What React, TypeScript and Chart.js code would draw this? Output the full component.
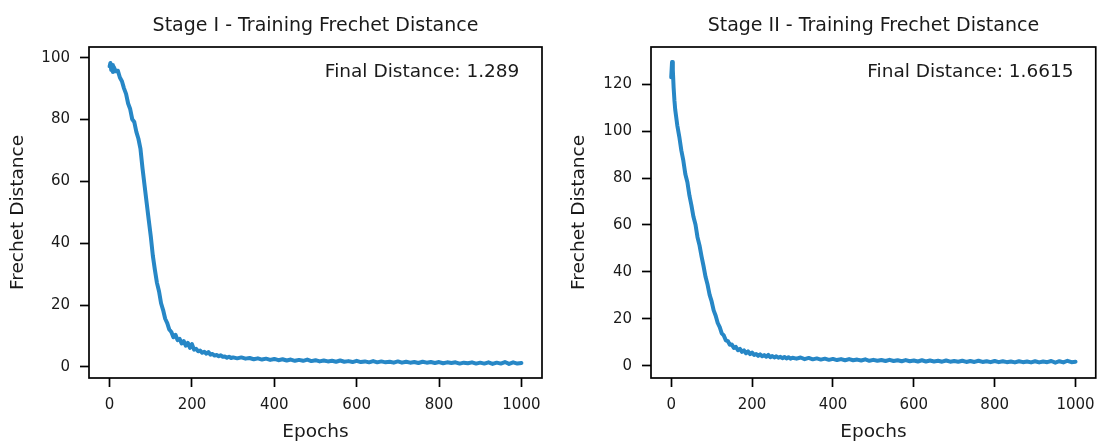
import React, { useEffect, useRef } from 'react';
import { Chart, registerables } from 'chart.js';

Chart.register(...registerables);

const EPOCHS = [
  0, 2, 4, 6, 8, 10,
  15, 20, 25, 30, 35, 40, 45, 50, 55, 60, 65, 70, 75, 80, 85, 90, 95, 100,
  105, 110, 115, 120, 125, 130, 135, 140, 145, 150, 155, 160, 165, 170, 175, 180,
  185, 190, 195, 200, 205, 210, 215, 220, 225, 230, 235, 240, 245, 250, 255, 260,
  265, 270, 275, 280, 285, 290, 295, 300,
  310, 320, 330, 340, 350, 360, 370, 380, 390, 400, 410, 420, 430, 440, 450, 460,
  470, 480, 490, 500, 510, 520, 530, 540, 550, 560, 570, 580, 590, 600, 610, 620,
  630, 640, 650, 660, 670, 680, 690, 700, 710, 720, 730, 740, 750, 760, 770, 780,
  790, 800, 810, 820, 830, 840, 850, 860, 870, 880, 890, 900, 910, 920, 930, 940,
  950, 960, 970, 980, 990, 1000,
];

const STAGE1_DISTANCE = [
  97.2, 98.3, 96.0, 97.6, 95.4, 97.0,
  95.6, 95.8, 93.6, 92.4, 90.1, 88.3, 85.2, 83.4, 80.1, 79.2, 76.0, 73.8, 70.5, 64.2, 58.6, 53.1, 47.6, 42.3,
  36.0, 31.4, 27.2, 24.5, 20.6, 18.4, 15.6, 14.2, 12.1, 11.3, 9.6, 10.4, 8.7, 9.1, 7.6, 8.4,
  6.9, 7.8, 6.2, 7.4, 5.6, 5.9, 5.1, 5.3, 4.6, 4.9, 4.3, 4.8, 4.0, 4.2, 3.7, 3.9,
  3.5, 3.8, 3.3, 3.4, 3.0, 3.3, 2.9, 3.1,
  2.8, 3.1, 2.7, 2.9, 2.5, 2.8, 2.4, 2.7, 2.3, 2.6, 2.2, 2.5, 2.1, 2.4, 2.0, 2.3,
  2.0, 2.4, 1.9, 2.2, 1.8, 2.1, 1.8, 2.0, 1.7, 2.1, 1.7, 1.9, 1.6, 2.0, 1.6, 1.8,
  1.5, 1.9, 1.5, 1.8, 1.5, 1.7, 1.4, 1.8, 1.4, 1.7, 1.4, 1.6, 1.3, 1.7, 1.4, 1.6,
  1.3, 1.6, 1.2, 1.5, 1.3, 1.5, 1.1, 1.4, 1.2, 1.5, 1.1, 1.4, 1.1, 1.5, 1.0, 1.4,
  1.1, 1.6, 1.0, 1.5, 1.1, 1.3,
];

const STAGE2_DISTANCE = [
  123.0, 129.5, 126.0, 118.5, 113.0, 109.0,
  102.5, 97.6, 91.8, 87.4, 81.6, 78.2, 72.6, 68.4, 63.5, 60.2, 54.8, 51.3, 46.6, 42.4, 37.8, 34.5, 30.2, 27.4,
  23.6, 21.3, 18.2, 16.4, 13.8, 12.9, 10.8, 10.5, 8.9, 9.0, 7.6, 8.0, 6.6, 7.2, 5.9, 6.5,
  5.3, 6.1, 4.9, 5.6, 4.6, 5.0, 4.2, 4.8, 4.0, 4.5, 3.8, 4.6, 3.6, 4.1, 3.5, 4.0,
  3.4, 3.8, 3.2, 3.7, 3.1, 3.6, 3.0, 3.4,
  3.0, 3.5, 2.8, 3.3, 2.7, 3.1, 2.6, 3.0, 2.5, 2.9, 2.4, 2.8, 2.3, 2.8, 2.3, 2.6,
  2.2, 2.7, 2.1, 2.5, 2.1, 2.4, 2.0, 2.5, 2.0, 2.3, 1.9, 2.4, 1.9, 2.2, 1.8, 2.3,
  1.8, 2.2, 1.8, 2.1, 1.7, 2.2, 1.7, 2.0, 1.7, 2.1, 1.6, 2.0, 1.6, 2.1, 1.6, 1.9,
  1.5, 2.0, 1.5, 1.9, 1.5, 1.8, 1.4, 1.9, 1.5, 1.8, 1.4, 1.9, 1.4, 1.8, 1.5, 2.0,
  1.3, 1.9, 1.4, 2.1, 1.5, 1.66,
];

const X_TICKS = [0, 200, 400, 600, 800, 1000];
const Y_TICKS_STAGE1 = [0, 20, 40, 60, 80, 100];
const Y_TICKS_STAGE2 = [0, 20, 40, 60, 80, 100, 120];

const TITLES = ['Stage I - Training Frechet Distance', 'Stage II - Training Frechet Distance'];
const FINAL_LABELS = ['Final Distance: 1.289', 'Final Distance: 1.6615'];
const X_LABEL = 'Epochs';
const Y_LABEL = 'Frechet Distance';

const FONT = "'DejaVu Sans', sans-serif";
const TEXT_COLOR = '#1a1a1a';
const LINE_COLOR = '#2787c6';

type PanelProps = {
  values: number[];
  yTicks: number[];
  yMin: number;
  yMax: number;
  title: string;
  finalLabel: string;
  yAxisWidth: number;
  yTitlePad: number;
  rightPad: number;
  left: number;
};

function Panel(props: PanelProps) {
  const ref = useRef<HTMLCanvasElement | null>(null);

  useEffect(() => {
    if (!ref.current) return;
    const frameAndLabel = {
      id: 'frameAndLabel',
      afterDraw(chart: any) {
        const { ctx, chartArea } = chart;
        const w = chartArea.right - chartArea.left;
        const h = chartArea.bottom - chartArea.top;
        ctx.save();
        ctx.strokeStyle = '#000';
        ctx.lineWidth = 1.7;
        ctx.strokeRect(chartArea.left, chartArea.top, w, h);
        ctx.fillStyle = TEXT_COLOR;
        ctx.font = `18.5px ${FONT}`;
        ctx.textAlign = 'right';
        ctx.textBaseline = 'alphabetic';
        ctx.fillText(props.finalLabel, chartArea.right - 0.05 * w, chartArea.top + 0.05 * h + 13.5);
        ctx.restore();
      },
    };

    const chart = new Chart(ref.current, {
      type: 'line',
      data: {
        datasets: [
          {
            data: EPOCHS.map((e, i) => ({ x: e, y: props.values[i] })),
            borderColor: LINE_COLOR,
            borderWidth: 4,
            pointRadius: 0,
            tension: 0,
            borderJoinStyle: 'round',
            borderCapStyle: 'round',
            fill: false,
          },
        ],
      },
      options: {
        animation: false,
        responsive: false,
        devicePixelRatio: 1,
        layout: { padding: { left: 0, right: props.rightPad, top: 0, bottom: 0 } },
        plugins: {
          legend: { display: false },
          tooltip: { enabled: false },
          title: {
            display: true,
            text: props.title,
            fullSize: false,
            color: TEXT_COLOR,
            font: { family: FONT, size: 19, weight: 'normal', lineHeight: 1 },
            padding: { top: 17, bottom: 11 },
          },
        },
        scales: {
          x: {
            type: 'linear',
            min: -50,
            max: 1050,
            afterBuildTicks: (s: any) => {
              s.ticks = X_TICKS.map((v) => ({ value: v }));
            },
            afterFit: (s: any) => {
              s.height = 63;
            },
            grid: {
              display: true,
              drawOnChartArea: false,
              drawTicks: true,
              tickLength: 9,
              tickWidth: 1.7,
              tickColor: '#000',
            },
            border: { display: false },
            ticks: {
              autoSkip: false,
              maxRotation: 0,
              padding: 9,
              color: TEXT_COLOR,
              font: { family: FONT, size: 15 },
              callback: (v: any) => String(v),
            },
            title: {
              display: true,
              text: X_LABEL,
              color: TEXT_COLOR,
              font: { family: FONT, size: 18.5, lineHeight: 1 },
              padding: { top: 0, bottom: 0 },
            },
          },
          y: {
            type: 'linear',
            min: props.yMin,
            max: props.yMax,
            afterBuildTicks: (s: any) => {
              s.ticks = props.yTicks.map((v) => ({ value: v }));
            },
            afterFit: (s: any) => {
              s.width = props.yAxisWidth;
            },
            grid: {
              display: true,
              drawOnChartArea: false,
              drawTicks: true,
              tickLength: 9,
              tickWidth: 1.7,
              tickColor: '#000',
            },
            border: { display: false },
            ticks: {
              autoSkip: false,
              padding: 10,
              color: TEXT_COLOR,
              font: { family: FONT, size: 15 },
              callback: (v: any) => String(v),
            },
            title: {
              display: true,
              text: Y_LABEL,
              color: TEXT_COLOR,
              font: { family: FONT, size: 18.5, lineHeight: 1 },
              padding: { top: props.yTitlePad, bottom: 0 },
            },
          },
        },
      } as any,
      plugins: [frameAndLabel],
    });
    return () => chart.destroy();
  }, []);

  return (
    <div style={{ position: 'absolute', top: 0, left: props.left, width: 552, height: 441 }}>
      <canvas ref={ref} width={552} height={441} style={{ display: 'block', width: 552, height: 441 }} />
    </div>
  );
}

export default function App() {
  return (
    <div style={{ position: 'absolute', top: 0, left: 0, width: 1104, height: 441, background: '#fff' }}>
      <Panel
        values={STAGE1_DISTANCE}
        yTicks={Y_TICKS_STAGE1}
        yMin={-3.56}
        yMax={103.46}
        title={TITLES[0]}
        finalLabel={FINAL_LABELS[0]}
        yAxisWidth={89}
        yTitlePad={9}
        rightPad={10}
        left={0}
      />
      <Panel
        values={STAGE2_DISTANCE}
        yTicks={Y_TICKS_STAGE2}
        yMin={-5.25}
        yMax={135.9}
        title={TITLES[1]}
        finalLabel={FINAL_LABELS[1]}
        yAxisWidth={99}
        yTitlePad={18}
        rightPad={2}
        left={552}
      />
    </div>
  );
}
